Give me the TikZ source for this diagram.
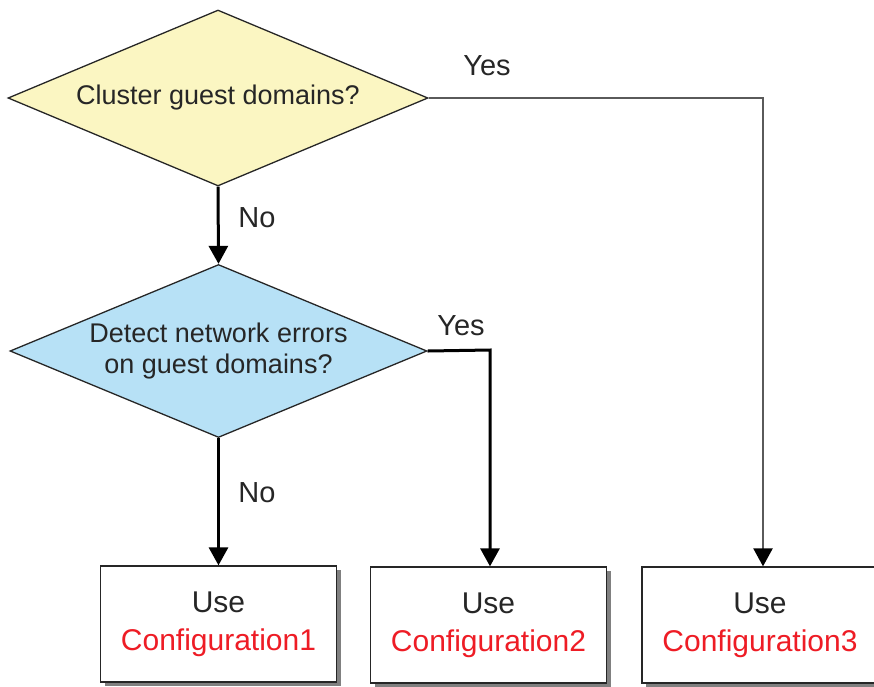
\documentclass[tikz,border=0pt]{standalone}
\usepackage{fontspec}
\setmainfont{Liberation Sans}
\usetikzlibrary{shapes.geometric,arrows.meta,shadows}
\definecolor{dyellow}{HTML}{FBF6C2}
\definecolor{dblue}{HTML}{B7E1F6}
\definecolor{cfgred}{HTML}{EE1C25}
\definecolor{linegray}{HTML}{5A5A5A}
\tikzset{
  decision/.style={diamond, draw=black!85, line width=1.3pt, inner sep=0pt,
    align=center, font=\fontsize{27}{31}\selectfont, text=black!85},
  resultbox/.style={rectangle, draw=black!85, line width=1.3pt, fill=white,
    minimum width=236pt, minimum height=116pt, align=center,
    font=\fontsize{30}{38}\selectfont, text=black!85,
    drop shadow={shadow xshift=4pt, shadow yshift=-4pt, fill=black!50, opacity=1}},
  flow/.style={line width=3pt, black, -{Triangle[width=19pt,length=18pt]}},
  flowgray/.style={line width=2.4pt, linegray, -{Triangle[width=19pt,length=18pt,fill=black,color=black]}},
  lbl/.style={font=\fontsize{29}{32}\selectfont, text=black!85, inner sep=0pt},
}
\begin{document}
\begin{tikzpicture}[x=1pt,y=-1pt]
\useasboundingbox (0,0) rectangle (874,686);
\clip (0,0) rectangle (874,686);
\node[decision, fill=dyellow, aspect=2.386, minimum width=420pt, minimum height=176pt] (d1) at (218,98) {Cluster guest domains?};
\node[decision, fill=dblue, aspect=2.41, minimum width=417pt, minimum height=173pt] (d2) at (218.5,351) {Detect network errors\\on guest domains?};
\node[resultbox] (b1) at (218.5,624) {Use\\\textcolor{cfgred}{Configuration1}};
\node[resultbox] (b2) at (488.5,625) {Use\\\textcolor{cfgred}{Configuration2}};
\node[resultbox] (b3) at (760,625) {Use\\\textcolor{cfgred}{Configuration3}};
\coordinate (c1) at (763,98);
\coordinate (c2) at (490,350);
\draw[flow] (d1.south) -- (d2.north);
\draw[flow] (d2.south) -- (b1.north);
\draw[flow] (d2.east) -- (c2) -- (c2 |- b2.north);
\draw[flowgray] (d1.east) -- (c1) -- (c1 |- b3.north);
\node[lbl] (n1) at (257,218) {No};
\node[lbl] (n2) at (257,493) {No};
\node[lbl] (y1) at (487,66) {Yes};
\node[lbl] (y2) at (461,326) {Yes};
\end{tikzpicture}
\end{document}
